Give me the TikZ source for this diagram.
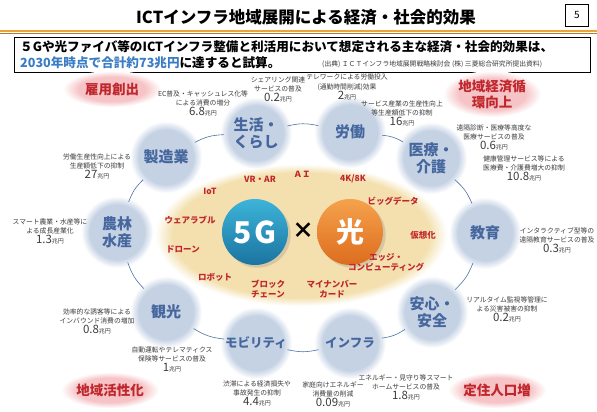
\documentclass[tikz,border=0pt]{standalone}
\usepackage{fontspec}
\setmainfont{Noto Sans CJK JP}
\usetikzlibrary{shapes.geometric,shadows}
\definecolor{cblue}{HTML}{C5D2E4}
\definecolor{ctext}{HTML}{46679E}
\definecolor{kred}{HTML}{C0272D}
\definecolor{pinkc}{HTML}{F6C3C6}
\definecolor{cream}{HTML}{F3E0AE}
\definecolor{ringc}{HTML}{4F72A8}
\definecolor{anng}{HTML}{3C3C3C}
\definecolor{tblue}{HTML}{3B7DC4}
\definecolor{oline}{HTML}{EBA33C}
\definecolor{olinedk}{HTML}{B77A2A}
\definecolor{gtop}{HTML}{3DB4D9}
\definecolor{gbot}{HTML}{1B74A0}
\definecolor{htop}{HTML}{F5A24C}
\definecolor{hbot}{HTML}{DD6C1E}
\pgfdeclareradialshading{softblue}{\pgfpoint{0bp}{0bp}}{color(0bp)=(cblue); color(19bp)=(cblue); color(25bp)=(white); color(50bp)=(white)}
\pgfdeclareradialshading{softpink}{\pgfpoint{0bp}{0bp}}{color(0bp)=(pinkc); color(17bp)=(pinkc); color(25bp)=(white); color(50bp)=(white)}
\pgfdeclareradialshading{softcream}{\pgfpoint{0bp}{0bp}}{color(0bp)=(cream); color(22bp)=(cream); color(25bp)=(white); color(50bp)=(white)}
\newcommand\chouen[1]{{\fontsize{11.5}{13}\selectfont #1}{\fontsize{6}{7}\selectfont 兆円}}
\tikzset{
  bub/.style={circle, minimum size=72pt, inner sep=0pt, shade, shading=softblue, text=ctext,
    font=\bfseries\fontsize{15}{17}\selectfont, align=center},
  kbub/.style={bub, font=\bfseries\fontsize{12.5}{15}\selectfont},
  pk/.style={ellipse, minimum width=98pt, minimum height=36pt, inner sep=0pt, shade, shading=softpink,
    text=kred, font=\bfseries\fontsize{13.5}{16}\selectfont, align=center},
  kw/.style={text=kred, font=\bfseries\fontsize{8.5}{10}\selectfont, align=center, inner sep=0pt},
  ann/.style={align=center, text=anng, font=\fontsize{6.8}{9.5}\selectfont, inner sep=0pt},
  ring/.style={draw=ringc, line width=0.6pt, bend left=12, shorten <=-4pt, shorten >=-4pt},
}
\begin{document}
\begin{tikzpicture}[x=1pt,y=-1pt]
\useasboundingbox (0,0) rectangle (597,412);
\fill[white] (0,0) rectangle (597,412);
% header
\node[font=\bfseries\fontsize{16.5}{18}\selectfont, inner sep=0pt] (title) at (306,17) {ICTインフラ地域展開による経済・社会的効果};
\node[draw=black, line width=0.6pt, minimum width=23pt, minimum height=22pt, inner sep=0pt, font=\fontsize{10}{12}\selectfont] (pg) at (577,15) {5};
\draw[olinedk, line width=1pt] (0,33.5) -- (597,33.5);
\draw[oline, line width=2pt] (0,31.5) -- (597,31.5);
\node[draw=black, line width=0.8pt, fill=white, minimum width=576pt, minimum height=35pt, inner sep=0pt] (box) at (302,55) {};
\node[anchor=west, inner sep=0pt, font=\bfseries\fontsize{12.6}{14}\selectfont] (l1) at (20,47) {５Gや光ファイバ等のICTインフラ整備と利活用において想定される主な経済・社会的効果は、};
\node[anchor=west, inner sep=0pt, font=\bfseries\fontsize{12.6}{14}\selectfont] (l2) at (20,63) {\textcolor{tblue}{2030年時点で合計約73兆円}に達すると試算。};
\node[anchor=west, inner sep=0pt, font=\fontsize{6.8}{8}\selectfont, text=anng] (src) at (322,64) {(出典) ＩＣＴインフラ地域展開戦略検討会 (株) 三菱総合研究所提出資料)};
% central ellipse
\node[ellipse, minimum width=292pt, minimum height=142pt, inner sep=0pt, shade, shading=softcream] (core) at (301,235) {};
% ring circles
\node[bub] (seizo) at (166,157) {製造業};
\node[bub] (seikatsu) at (256,133) {生活・\\くらし};
\node[bub] (roudou) at (350,132) {労働};
\node[bub] (iryou) at (431,158) {医療・\\介護};
\node[bub] (kyouiku) at (485,233) {教育};
\node[bub] (anshin) at (432,312) {安心・\\安全};
\node[kbub] (infra) at (350,343) {インフラ};
\node[kbub] (mobility) at (256,343) {モビリティ};
\node[bub] (kankou) at (166,312) {観光};
\node[bub] (nourin) at (117,232) {農林\\水産};
% ring links
\draw[ring] (seizo) to (seikatsu);
\draw[ring] (seikatsu) to (roudou);
\draw[ring] (roudou) to (iryou);
\draw[ring] (iryou) to (kyouiku);
\draw[ring] (kyouiku) to (anshin);
\draw[ring] (anshin) to (infra);
\draw[ring] (infra) to (mobility);
\draw[ring] (mobility) to (kankou);
\draw[ring] (kankou) to (nourin);
\draw[ring] (nourin) to (seizo);
% 5G x light
\node[circle, minimum size=66pt, inner sep=0pt, top color=gtop, bottom color=gbot, drop shadow={opacity=0.25}, text=white, font=\bfseries\fontsize{30}{32}\selectfont] (g5) at (255,232) {5\kern3pt G};
\node[circle, minimum size=66pt, inner sep=0pt, top color=htop, bottom color=hbot, drop shadow={opacity=0.25}, text=white, font=\bfseries\fontsize{28}{30}\selectfont] (hikari) at (350,232) {光};
\node[font=\bfseries\fontsize{22}{24}\selectfont, inner sep=0pt] (times) at (303,231) {×};
% keywords
\node[kw] (k1) at (210,191) {IoT};
\node[kw] (k2) at (260,179) {VR・AR};
\node[kw] (k3) at (302,174) {ＡＩ};
\node[kw] (k4) at (353,179) {4K/8K};
\node[kw] (k5) at (393,201) {ビッグデータ};
\node[kw] (k6) at (190,220) {ウェアラブル};
\node[kw] (k7) at (423,235) {仮想化};
\node[kw] (k8) at (183,249) {ドローン};
\node[kw] (k9) at (386,262) {エッジ・\\コンピューティング};
\node[kw] (k10) at (215,277) {ロボット};
\node[kw] (k11) at (268,289) {ブロック\\チェーン};
\node[kw] (k12) at (332,289) {マイナンバー\\カード};
% pink goals
\node[pk] (p1) at (112,89) {雇用創出};
\node[pk, minimum height=46pt] (p2) at (492,94) {地域経済循\\環向上};
\node[pk] (p3) at (110,390) {地域活性化};
\node[pk] (p4) at (497,390) {定住人口増};
% annotations
\node[ann] (a1) at (203,103) {EC普及・キャッシュレス化等\\による消費の増分\\\chouen{6.8}};
\node[ann] (a2) at (278,89) {シェアリング関連\\サービスの普及\\\chouen{0.2}};
\node[ann] (a3) at (347,87) {テレワークによる労働投入\\(通勤時間削減)効果\\\chouen{2}};
\node[ann] (a4) at (402,113) {サービス産業の生産性向上\\等生産額低下の抑制\\\chouen{16}};
\node[ann] (a5) at (494,137) {遠隔診断・医療等高度な\\医療サービスの普及\\\chouen{0.6}};
\node[ann] (a6) at (524,168) {健康管理サービス等による\\医療費・介護費増大の抑制\\\chouen{10.8}};
\node[ann] (a7) at (557,240) {インタラクティブ型等の\\遠隔教育サービスの普及\\\chouen{0.3}};
\node[ann] (a8) at (507,309) {リアルタイム監視等管理に\\よる災害被害の抑制\\\chouen{0.2}};
\node[ann] (a9) at (406,387) {エネルギー・見守り等スマート\\ホームサービスの普及\\\chouen{1.8}};
\node[ann] (a10) at (333,394) {家庭向けエネルギー\\消費量の削減\\\chouen{0.09}};
\node[ann] (a11) at (257,393) {渋滞による経済損失や\\事故発生の抑制\\\chouen{4.4}};
\node[ann] (a12) at (172,359) {自動運転やテレマティクス\\保険等サービスの普及\\\chouen{1}};
\node[ann] (a13) at (97,321) {効率的な誘客等による\\インバウンド消費の増加\\\chouen{0.8}};
\node[ann] (a14) at (50,231) {スマート農業・水産等に\\よる成長産業化\\\chouen{1.3}};
\node[ann] (a15) at (97,166) {労働生産性向上による\\生産額低下の抑制\\\chouen{27}};
\end{tikzpicture}
\end{document}
